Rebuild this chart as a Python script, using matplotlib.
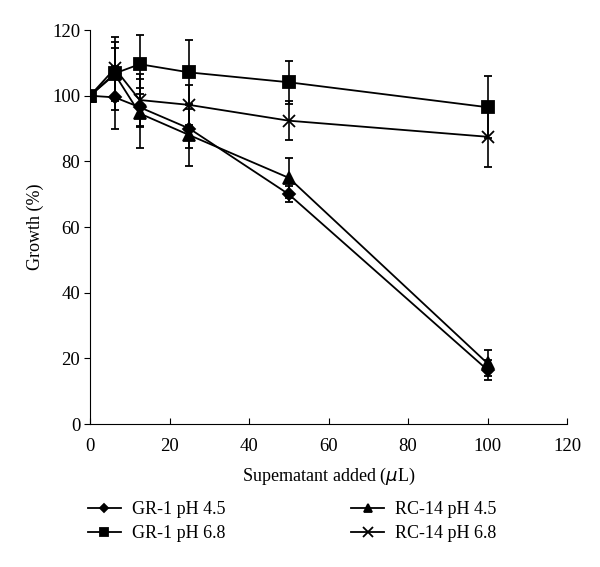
import matplotlib
matplotlib.use("Agg")
import matplotlib.pyplot as plt
from matplotlib.lines import Line2D

plt.rcParams['font.family'] = ['Liberation Serif', 'DejaVu Serif']

x = [0, 6.25, 12.5, 25, 50, 100]
gr1_45 = [100, 99.5, 96.5, 90, 70, 16.5]
gr1_45_err = [0, 9.5, 6, 6, 2.5, 3]
gr1_68 = [100, 106.8, 109.6, 107.1, 104.1, 96.5]
gr1_68_err = [0, 11, 9, 10, 6.5, 9.5]
rc14_45 = [100, 106.5, 94.6, 88, 75, 18.5]
rc14_45_err = [0, 8, 10.6, 9.4, 6, 4]
rc14_68 = [100, 108.3, 98.7, 97.2, 92.4, 87.5]
rc14_68_err = [0, 8, 8, 6, 6, 9.3]

labels = ["GR-1 pH 4.5", "GR-1 pH 6.8", "RC-14 pH 4.5", "RC-14 pH 6.8"]
markers = ["D", "s", "^", "x"]
sizes = [6, 8, 8, 9]
zorders = [3, 5, 2, 4]

fig = plt.figure(figsize=(6, 5.67), dpi=100)
ax = fig.add_axes([0.15, 0.252, 0.795, 0.695])

series = [(gr1_45, gr1_45_err), (gr1_68, gr1_68_err), (rc14_45, rc14_45_err), (rc14_68, rc14_68_err)]
handles = []
for (y, e), lab, m, s, z in zip(series, labels, markers, sizes, zorders):
    ax.errorbar(x, y, yerr=e, color='black', lw=1.3, marker=m, ms=s,
                mew=1.3, capsize=3, elinewidth=1.2, capthick=1.2, zorder=z)
    handles.append(Line2D([], [], color='black', lw=1.3, marker=m, ms=s * 0.75, mew=1.3))

ax.set_xlim(0, 120)
ax.set_ylim(0, 120)
ax.set_xticks(range(0, 121, 20))
ax.set_yticks(range(0, 121, 20))
ax.spines['top'].set_visible(False)
ax.spines['right'].set_visible(False)
ax.tick_params(axis='y', direction='out', length=4, labelsize=13.5, pad=3)
ax.tick_params(axis='x', direction='in', length=4, labelsize=13.5, pad=10)
ax.set_xlabel("Supernatant added ($\\mu$L)", fontsize=13, labelpad=8)
ax.set_ylabel("Growth (%)", fontsize=13, labelpad=6)

fig.legend(handles, labels, ncol=2, loc='upper left', bbox_to_anchor=(0.147, 0.116),
           frameon=False, fontsize=13, handlelength=1.8, columnspacing=7.0,
           labelspacing=0.4, handletextpad=0.6, borderpad=0, borderaxespad=0)

fig.savefig("out.png", dpi=100)
